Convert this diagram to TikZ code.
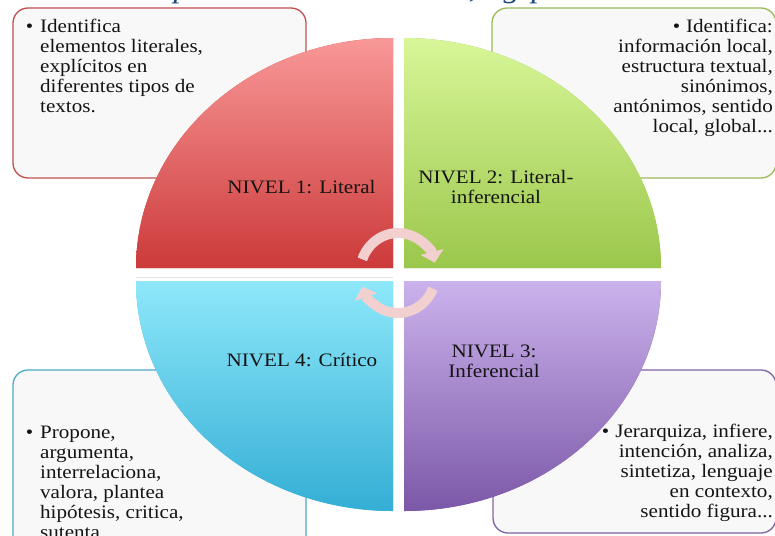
\documentclass[tikz,border=0pt]{standalone}
\usepackage{fontspec}
\setmainfont[FakeStretch=1.11]{Liberation Serif}
\usetikzlibrary{arrows.meta}
\definecolor{boxfill}{RGB}{248,248,248}
\definecolor{redline}{RGB}{192,80,77}
\definecolor{greenline}{RGB}{155,187,89}
\definecolor{blueline}{RGB}{75,172,198}
\definecolor{purpleline}{RGB}{128,100,162}
\definecolor{redtop}{RGB}{249,152,152}
\definecolor{redbot}{RGB}{204,58,58}
\definecolor{greentop}{RGB}{216,246,152}
\definecolor{greenbot}{RGB}{155,199,76}
\definecolor{cyantop}{RGB}{142,232,250}
\definecolor{cyanbot}{RGB}{52,174,213}
\definecolor{purpletop}{RGB}{203,178,236}
\definecolor{purplebot}{RGB}{124,88,168}
\definecolor{cycpink}{RGB}{242,208,208}
\definecolor{titleblue}{RGB}{31,73,125}
\definecolor{txt}{RGB}{20,20,20}
\definecolor{shadowgray}{RGB}{228,228,228}
\begin{document}
\begin{tikzpicture}[x=1pt,y=-1pt,
  infobox/.style={draw=#1, line width=1.3pt, fill=boxfill, rounded corners=15pt},
  quadfill/.style 2 args={fill=#2, top color=#1, bottom color=#2, draw=none},
  boxtext/.style={inner sep=0pt, font=\fontsize{19}{20}\selectfont, text=txt},
  lbl/.style={inner sep=0pt, align=center, font=\fontsize{19}{20}\selectfont, text=txt},
  cycarrow/.style={draw=cycpink, line width=10pt, -{Triangle[length=11pt,width=23pt]}},
  titlefrag/.style={inner sep=0pt, anchor=base, text=titleblue, font=\fontsize{30}{30}\selectfont\itshape}]
\useasboundingbox (0,0) rectangle (775,535);
\clip (0,0) rectangle (775,535);
\fill[white] (0,0) rectangle (775,535);

% cut-off title fragments
\node[titlefrag] (f1) at (182,-2) {p};
\node[titlefrag] (f2) at (473,-2) {,};
\node[titlefrag] (f3) at (512,-2) {g};
\node[titlefrag] (f4) at (540,-2) {p};

% info boxes
\draw[infobox=redline] (13,8) rectangle (306,178);
\draw[infobox=greenline] (492,8) rectangle (776,178);
\draw[infobox=blueline] (13,370) rectangle (306,560);
\draw[infobox=purpleline] (493,370) rectangle (776,533);

\node[boxtext, anchor=north west, align=left] (t1) at (40,19)
  {\llap{\textbullet\hspace{7pt}}Identifica\\elementos literales,\\explícitos en\\diferentes tipos de\\textos.};
\node[boxtext, anchor=north east, align=right] (t2) at (773,19)
  {\textbullet\hspace{6pt}Identifica:\\información local,\\estructura textual,\\sinónimos,\\antónimos, sentido\\local, global...};
\node[boxtext, anchor=north west, align=left] (t3) at (40,425.5)
  {\llap{\textbullet\hspace{7pt}}Propone,\\argumenta,\\interrelaciona,\\valora, plantea\\hipótesis, critica,\\sutenta};
\node[boxtext, anchor=north east, align=right] (t4) at (773,424)
  {\textbullet\hspace{6pt}Jerarquiza, infiere,\\intención, analiza,\\sintetiza, lenguaje\\en contexto,\\sentido figura...};

% faint reflection line under the upper quadrants
\draw[shadowgray, line width=1pt] (136,277.5) -- (393,277.5);

% quadrants
\path[quadfill={redtop}{redbot}] (393,268) -- (136,268) arc[start angle=180,end angle=270,x radius=257,y radius=230] -- cycle;
\path[quadfill={greentop}{greenbot}] (404,268) -- (404,38) arc[start angle=270,end angle=360,x radius=257,y radius=230] -- cycle;
\path[quadfill={purpletop}{purplebot}] (404,281) -- (661,281) arc[start angle=0,end angle=90,x radius=257,y radius=230] -- cycle;
\path[quadfill={cyantop}{cyanbot}] (393,281) -- (393,511) arc[start angle=90,end angle=180,x radius=257,y radius=230] -- cycle;

% labels
\node[lbl, anchor=base] (l1) at (301.5,193) {NIVEL 1: Literal};
\node[lbl] (l2) at (496,186.5) {NIVEL 2: Literal-\\inferencial};
\node[lbl] (l3) at (494,361.5) {NIVEL 3:\\Inferencial};
\node[lbl, anchor=base] (l4) at (302,366) {NIVEL 4: Crítico};

% cycle arrows
\coordinate (ctr) at (398,273);
\draw[cycarrow] ([shift={(200:38 and 40)}]ctr) arc[start angle=200, end angle=345, x radius=38, y radius=40];
\draw[cycarrow] ([shift={(23:38 and 40)}]ctr) arc[start angle=23, end angle=160, x radius=38, y radius=40];
\end{tikzpicture}
\end{document}
